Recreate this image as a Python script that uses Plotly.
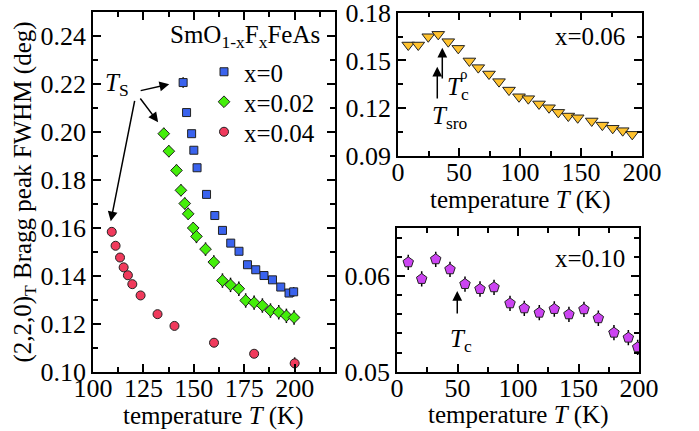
import plotly.graph_objects as go

# ---------------- data ----------------
# left panel: SmO1-xFxFeAs, x = 0, 0.02, 0.04
T_x0 = [144.7, 146.4, 148.9, 150.0, 151.6, 156.3, 160.4, 164.2, 168.3, 172.4,
        176.6, 180.7, 184.8, 189.0, 193.1, 197.2, 199.5]
W_x0 = [0.2206, 0.2081, 0.1993, 0.1924, 0.1851, 0.1740, 0.1652, 0.1590, 0.1537,
        0.1503, 0.1447, 0.1426, 0.1402, 0.1384, 0.1354, 0.1329, 0.1334]
E_x0 = [0.0022, 0.0015, 0.0015, 0.0015, 0.0015, 0.0015, 0.0015, 0.0015, 0.0015,
        0.0015, 0.0015, 0.0015, 0.0015, 0.0015, 0.0015, 0.0015, 0.0020]

T_x002 = [135.1, 137.6, 141.4, 143.6, 145.5, 147.2, 149.7, 151.3, 155.8, 159.9,
          164.2, 168.2, 172.3, 175.7, 179.9, 184.0, 188.0, 192.1, 195.9, 199.7]
W_x002 = [0.1993, 0.1920, 0.1840, 0.1757, 0.1702, 0.1659, 0.1600, 0.1565, 0.1512,
          0.1458, 0.1381, 0.1363, 0.1347, 0.1298, 0.1289, 0.1277, 0.1256, 0.1249,
          0.1234, 0.1227]
E_x002 = [0.0025, 0.0025, 0.0025, 0.0025, 0.0025, 0.0025, 0.0025, 0.0028, 0.0028,
          0.0028, 0.0030, 0.0030, 0.0030, 0.0030, 0.0030, 0.0030, 0.0030, 0.0030,
          0.0030, 0.0030]

T_x004 = [109.3, 111.2, 113.4, 115.2, 117.3, 119.5, 123.6, 132.0, 140.4, 160.0,
          179.9, 200.0]
W_x004 = [0.1584, 0.1526, 0.1477, 0.1436, 0.1403, 0.1366, 0.1319, 0.1241, 0.1192,
          0.1122, 0.1076, 0.1036]
E_x004 = [0.0008, 0.0008, 0.0008, 0.0008, 0.0008, 0.0008, 0.0008, 0.0008, 0.0008,
          0.0008, 0.0008, 0.0025]

# top right: x = 0.06
T_x006 = [8.4, 16.6, 24.8, 33.0, 41.2, 49.4, 58.5, 65.8, 74.6, 82.8, 91.0, 99.2,
          106.8, 115.6, 123.8, 131.4, 139.6, 147.3, 158.8, 167.5, 176.0, 184.2, 192.0]
W_x006 = [0.1597, 0.1597, 0.1649, 0.1664, 0.1618, 0.1576, 0.1497, 0.1455, 0.1415,
          0.1367, 0.1314, 0.1272, 0.1260, 0.1227, 0.1203, 0.1174, 0.1151, 0.1140,
          0.1120, 0.1094, 0.1074, 0.1059, 0.1036]

# bottom right: x = 0.10
T_x010 = [9.3, 20.4, 32.0, 43.8, 56.2, 68.6, 80.2, 93.4, 105.2, 117.6, 130.0,
          142.1, 154.5, 166.4, 179.3, 191.2, 198.9]
W_x010 = [0.06144, 0.05970, 0.06176, 0.06071, 0.05917, 0.05865, 0.05883, 0.05715,
          0.05663, 0.05617, 0.05656, 0.05600, 0.05653, 0.05559, 0.05408, 0.05356,
          0.05255]
E_x010 = [0.0008] * len(T_x010)

legend_names = ["x=0", "x=0.02", "x=0.04"]
yticks_top = [0.09, 0.12, 0.15, 0.18]

# ---------------- style ----------------
FONT = "Liberation Serif"
FS = 25
TFS = 26
W, H = 699, 431
BLUE = "#3A63EE"
GREEN = "#44EE0A"
RED = "#F03A5C"
GOLD = "#FFC22E"
PURPLE = "#CC44F2"


def px(x):
    return x / W


def py(y):
    return 1 - y / H


fig = go.Figure()

err_style = dict(type="data", thickness=1.5, width=0, color="black")

fig.add_trace(go.Scatter(
    x=T_x0, y=W_x0, mode="markers", name=legend_names[0], legend="legend",
    error_y=dict(array=E_x0, **err_style),
    marker=dict(symbol="square", size=8, color=BLUE, line=dict(color="#222", width=1)),
    xaxis="x", yaxis="y"))
fig.add_trace(go.Scatter(
    x=T_x002, y=W_x002, mode="markers", name=legend_names[1], legend="legend2",
    error_y=dict(array=E_x002, **err_style),
    marker=dict(symbol="diamond", size=9, color=GREEN, line=dict(color="#222", width=1)),
    xaxis="x", yaxis="y"))
fig.add_trace(go.Scatter(
    x=T_x004, y=W_x004, mode="markers", name=legend_names[2], legend="legend3",
    error_y=dict(array=E_x004, **err_style),
    marker=dict(symbol="circle", size=9, color=RED, line=dict(color="#222", width=1)),
    xaxis="x", yaxis="y"))
fig.add_trace(go.Scatter(
    x=T_x006, y=W_x006, mode="markers", showlegend=False,
    marker=dict(symbol="triangle-down", size=11, color=GOLD, line=dict(color="#222", width=1)),
    xaxis="x2", yaxis="y2"))
fig.add_trace(go.Scatter(
    x=T_x010, y=W_x010, mode="markers", showlegend=False,
    error_y=dict(array=E_x010, **err_style),
    marker=dict(symbol="pentagon", size=11, color=PURPLE, line=dict(color="#222", width=1)),
    xaxis="x3", yaxis="y3"))

axis_common = dict(
    showline=True, linecolor="black", linewidth=1.5, mirror="allticks",
    ticks="inside", ticklen=8, tickwidth=1.5, tickcolor="black",
    showgrid=False, zeroline=False, automargin=False, ticklabeloverflow="allow",
    tickfont=dict(family=FONT, size=TFS, color="black"),
)
minor_common = dict(ticks="inside", ticklen=5, tickwidth=1.5, tickcolor="black", showgrid=False)
XSO = -8  # pull x tick labels closer to the axis line


def legend_box(y_top):
    return dict(x=px(204), y=py(y_top), xanchor="left", yanchor="top",
                font=dict(family=FONT, size=FS, color="black"),
                bgcolor="rgba(0,0,0,0)", itemwidth=30)


fig.update_layout(
    width=W, height=H,
    margin=dict(l=0, r=0, t=0, b=0, autoexpand=False),
    paper_bgcolor="white", plot_bgcolor="white",
    font=dict(family=FONT, size=FS, color="black"),
    xaxis=dict(domain=[px(93), px(335)], range=[100, 220], tick0=100, dtick=25,
               ticklabelstandoff=XSO,
               minor=dict(dtick=12.5, **minor_common), anchor="y", **axis_common),
    yaxis=dict(domain=[py(372), py(12)], range=[0.10, 0.25], tick0=0.10, dtick=0.02,
               tickformat=".2f", minor=dict(dtick=0.01, **minor_common), anchor="x",
               title=dict(text="(2,2,0)<sub>T</sub> Bragg peak FWHM (deg)",
                          font=dict(family=FONT, size=FS, color="black"), standoff=2),
               **axis_common),
    xaxis2=dict(domain=[px(398), px(642)], range=[0, 200], tick0=0, dtick=50,
                ticklabelstandoff=XSO,
                minor=dict(dtick=25, **minor_common), anchor="y2", **axis_common),
    yaxis2=dict(domain=[py(156), py(12.7)], range=[0.09, 0.18], tickmode="array",
                tickvals=yticks_top, ticktext=[f"{v:.2f}" for v in yticks_top],
                minor=dict(tick0=0.09, dtick=0.015, **minor_common), anchor="x2",
                **axis_common),
    xaxis3=dict(domain=[px(397), px(639)], range=[0, 200], tick0=0, dtick=50,
                ticklabelstandoff=XSO,
                minor=dict(dtick=25, **minor_common), anchor="y3", **axis_common),
    yaxis3=dict(domain=[py(371.7), py(228.3)], range=[0.05, 0.065], tick0=0.05, dtick=0.01,
                tickformat=".2f", minor=dict(dtick=0.002, **minor_common), anchor="x3",
                **axis_common),
    legend=legend_box(49),
    legend2=legend_box(79),
    legend3=legend_box(109),
    showlegend=True,
)

ann = []


def text_ann(x, y, text, size=FS, xanchor="left", yanchor="middle"):
    ann.append(dict(x=px(x), y=py(y), xref="paper", yref="paper", text=text,
                    showarrow=False, xanchor=xanchor, yanchor=yanchor,
                    font=dict(family=FONT, size=size, color="black")))


def arrow(xr, yr, tail, head):
    ann.append(dict(x=head[0], y=head[1], ax=tail[0], ay=tail[1], xref=xr, yref=yr,
                    axref=xr, ayref=yr, text="", showarrow=True, arrowhead=2,
                    arrowsize=1.3, arrowwidth=1.5, arrowcolor="black"))


XT = "temperature <i>T</i> (K)"
text_ann(213, 416, XT, xanchor="center")
text_ann(520, 200, XT, xanchor="center")
text_ann(518, 415, XT, xanchor="center")

text_ann(168, 36, "SmO<sub>1-x</sub>F<sub>x</sub>FeAs")
text_ann(103, 84, "<i>T</i><sub>S</sub>")
text_ann(553, 36, "x=0.06")
text_ann(553, 258, "x=0.10")
text_ann(445, 88, "<i>T</i><sub>c</sub>")
text_ann(458, 74, "ρ", size=15)
text_ann(430, 118, "<i>T</i><sub>sro</sub>")
text_ann(448, 340, "<i>T</i><sub>c</sub>")

# arrows (tail -> head) in data coordinates
arrow("x", "y", (122.9, 0.2171), (137.8, 0.2199))
arrow("x", "y", (122.9, 0.2146), (132.3, 0.2041))
arrow("x", "y", (120.8, 0.2136), (108.8, 0.1628))
arrow("x2", "y2", (32.2, 0.1252), (32.2, 0.1461))
arrow("x2", "y2", (36.3, 0.1377), (36.3, 0.1580))
arrow("x3", "y3", (49.8, 0.05593), (49.8, 0.05844))

fig.update_layout(annotations=ann)

fig.write_html("out.html")
